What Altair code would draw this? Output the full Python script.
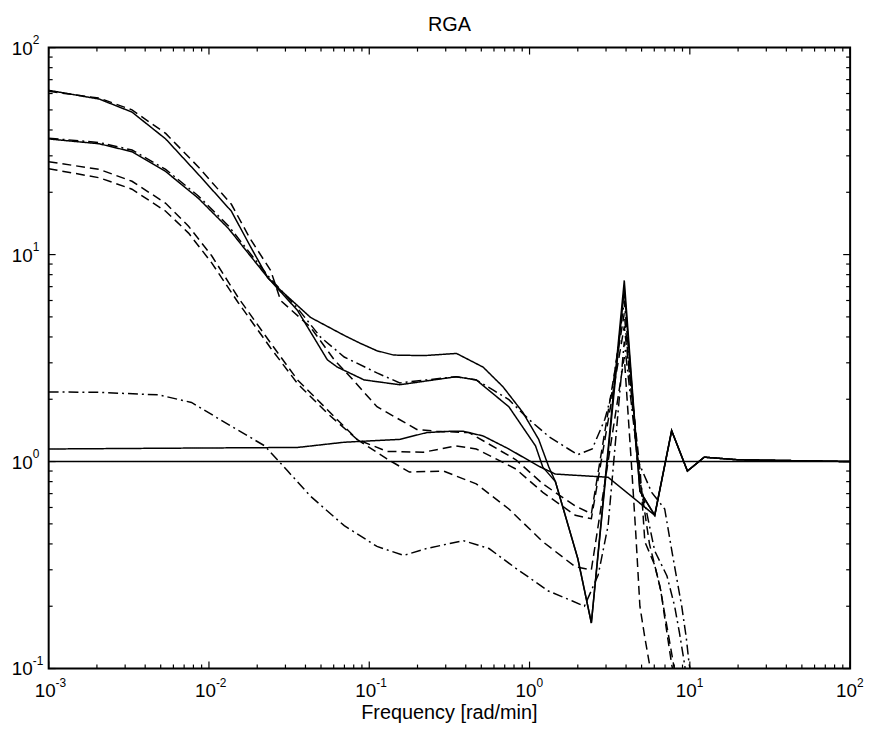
import altair as alt
import pandas as pd

# ---------------- text ----------------
title_text = "RGA"
x_title = "Frequency [rad/min]"

# ---------------- axis decades / tick labels ----------------
x_decades = [1e-3, 1e-2, 1e-1, 1e0, 1e1, 1e2]
x_exponents = ["-3", "-2", "-1", "0", "1", "2"]
y_decades = [1e-1, 1e0, 1e1, 1e2]
y_exponents = ["-1", "0", "1", "2"]
minor_mult = [2, 3, 4, 5, 6, 7, 8, 9]

# ---------------- series ----------------
s1_freq = [0.001, 0.00207, 0.00331, 0.00537, 0.00859, 0.0138, 0.0183, 0.0233, 0.0269, 0.043, 0.0698, 0.0877,
           0.1117, 0.142, 0.22, 0.35, 0.513, 0.682, 0.907, 1.14, 1.32, 1.45, 2.0, 2.43, 3.9, 4.88, 6.04, 7.7,
           9.66, 12.3, 20, 100]
s1_val = [62.2, 56.4, 48.8, 36.2, 24.4, 16.2, 10.8, 7.73, 6.92, 4.97, 4.07, 3.73,
          3.43, 3.27, 3.25, 3.33, 2.86, 2.30, 1.73, 1.28, 0.94, 0.80, 0.34, 0.166, 7.5, 0.72, 0.55, 1.41,
          0.90, 1.05, 1.02, 1.0]

s2_freq = [0.001, 0.00207, 0.00331, 0.00537, 0.00859, 0.0132, 0.0233, 0.0357, 0.0548, 0.0632, 0.0929, 0.155,
           0.349, 0.465, 0.743, 1.09, 1.21, 1.45, 2.0, 2.43, 3.9, 4.88, 6.04, 7.7, 9.66, 12.3, 20, 100]
s2_val = [36.2, 34.3, 31.4, 25.2, 18.7, 13.4, 7.73, 5.37, 3.10, 2.86, 2.48, 2.35,
          2.57, 2.48, 1.84, 1.19, 0.94, 0.80, 0.34, 0.166, 6.8, 0.72, 0.55, 1.41, 0.90, 1.05, 1.02, 1.0]

s3_freq = [0.001, 0.00537, 0.0357, 0.0698, 0.155, 0.228, 0.316, 0.386, 0.513, 0.743, 1.14, 1.45, 3.09,
           6.04, 7.7, 9.66, 12.3, 20, 100]
s3_val = [1.15, 1.16, 1.17, 1.24, 1.28, 1.38, 1.40, 1.40, 1.33, 1.15, 0.95, 0.87, 0.84,
          0.55, 1.41, 0.90, 1.05, 1.02, 1.0]

s4_freq = [0.001, 100]
s4_val = [1.0, 1.0]

dd1_freq = [0.001, 0.00207, 0.00331, 0.00537, 0.00859, 0.0132, 0.0233, 0.0357, 0.0497, 0.0698, 0.1117, 0.155,
            0.228, 0.349, 0.465, 0.591, 0.743, 0.989, 1.32, 1.75, 2.0, 2.46, 2.95, 3.27, 3.9, 4.74, 5.78,
            6.97, 7.77, 8.9, 9.5, 9.9, 10.7]
dd1_val = [36.5, 34.8, 32.0, 25.8, 19.2, 13.8, 7.9, 5.5, 3.99, 3.20, 2.68, 2.40,
           2.48, 2.57, 2.48, 2.22, 1.99, 1.60, 1.32, 1.15, 1.08, 1.15, 1.60, 2.15, 6.0, 1.01, 0.71,
           0.59, 0.36, 0.2, 0.141, 0.105, 0.08]

dd2_freq = [0.001, 0.00207, 0.00486, 0.00778, 0.0138, 0.0223, 0.031, 0.043, 0.0698, 0.1117, 0.164, 0.228,
            0.386, 0.559, 0.822, 1.31, 1.85, 2.2, 2.68, 3.09, 3.9, 4.9, 6.04, 7.2, 8.04, 8.6, 9.27, 9.6]
dd2_val = [2.17, 2.16, 2.10, 1.93, 1.48, 1.19, 0.90, 0.68, 0.49, 0.389, 0.352, 0.38,
           0.415, 0.38, 0.305, 0.237, 0.212, 0.20, 0.283, 0.49, 3.8, 0.8, 0.37, 0.28, 0.2, 0.15, 0.105, 0.085]

d1_freq = [0.001, 0.00207, 0.00331, 0.00537, 0.00859, 0.0138, 0.018, 0.0243, 0.028, 0.043, 0.0605, 0.076,
           0.1117, 0.198, 0.263, 0.42, 0.618, 0.822, 1.21, 1.93, 2.43, 3.9, 4.7, 5.6, 6.5, 7.3, 8.0, 8.4]
d1_val = [61.5, 57.0, 50.0, 38.5, 26.5, 17.5, 12.0, 8.36, 6.0, 4.46, 3.10, 2.57,
          1.84, 1.43, 1.40, 1.38, 1.16, 1.02, 0.78, 0.61, 0.56, 5.2, 1.0, 0.4, 0.25, 0.15, 0.1, 0.085]

d3_freq = [0.001, 0.00207, 0.00331, 0.00537, 0.00746, 0.0104, 0.0152, 0.0243, 0.0357, 0.0548, 0.0839, 0.129,
           0.178, 0.29, 0.465, 0.743, 1.21, 1.93, 2.43, 3.9, 4.35, 4.6, 4.88, 5.24, 5.6, 6.0]
d3_val = [28.1, 25.8, 22.6, 17.7, 13.7, 9.87, 6.21, 3.73, 2.48, 1.78, 1.28, 1.03,
          0.89, 0.90, 0.78, 0.59, 0.41, 0.31, 0.30, 3.2, 0.9, 0.45, 0.2, 0.141, 0.105, 0.085]

d4_freq = [0.001, 0.00207, 0.00331, 0.00537, 0.00746, 0.0104, 0.0152, 0.0243, 0.0357, 0.0548, 0.0839, 0.129,
           0.218, 0.349, 0.465, 0.618, 0.822, 1.21, 1.93, 2.43, 3.9, 4.9, 5.24, 6.04, 6.6, 6.97, 7.7, 8.0]
d4_val = [26.0, 23.5, 20.7, 16.2, 12.7, 9.12, 5.87, 3.53, 2.38, 1.71, 1.28, 1.12,
          1.11, 1.19, 1.15, 1.03, 0.92, 0.71, 0.55, 0.53, 4.5, 0.9, 0.41, 0.316, 0.237, 0.176, 0.105, 0.09]

series = [
    ("s1", "solid", s1_freq, s1_val),
    ("s2", "solid", s2_freq, s2_val),
    ("s3", "solid", s3_freq, s3_val),
    ("s4", "solid", s4_freq, s4_val),
    ("dd1", "dashdot", dd1_freq, dd1_val),
    ("dd2", "dashdot", dd2_freq, dd2_val),
    ("d1", "dashed", d1_freq, d1_val),
    ("d3", "dashed", d3_freq, d3_val),
    ("d4", "dashed", d4_freq, d4_val),
]

rows = []
for name, style, fr, va in series:
    for i, (f, v) in enumerate(zip(fr, va)):
        rows.append({"series": name, "style": style, "freq": f, "value": v, "i": i})
df = pd.DataFrame(rows)

W, H = 808, 626
FONT = "Liberation Sans"
MAJ, MIN = 7, 4

xscale = alt.Scale(type="log", domain=[1e-3, 1e2], nice=False)
yscale = alt.Scale(type="log", domain=[1e-1, 1e2], nice=False)

lines = alt.Chart(df).mark_line(clip=True, strokeWidth=1.5, color="black").encode(
    x=alt.X("freq:Q", scale=xscale, axis=None),
    y=alt.Y("value:Q", scale=yscale, axis=None),
    detail="series:N",
    order=alt.Order("i:Q"),
    strokeDash=alt.StrokeDash(
        "style:N",
        scale=alt.Scale(domain=["solid", "dashed", "dashdot"], range=[[1, 0], [9, 5], [10, 4, 2, 4]]),
        legend=None,
    ),
)

x_major = x_decades
x_minor = [m * d for d in x_decades[:-1] for m in minor_mult]
y_major = y_decades
y_minor = [m * d for d in y_decades[:-1] for m in minor_mult]


def xticks(vals, length):
    d = pd.DataFrame({"v": vals})
    base = alt.Chart(d).mark_rule(color="black", strokeWidth=1.2)
    bottom = base.encode(x=alt.X("v:Q", scale=xscale, axis=None), y=alt.value(H), y2=alt.value(H - length))
    top = base.encode(x=alt.X("v:Q", scale=xscale, axis=None), y=alt.value(0), y2=alt.value(length))
    return [bottom, top]


def yticks(vals, length):
    d = pd.DataFrame({"v": vals})
    base = alt.Chart(d).mark_rule(color="black", strokeWidth=1.2)
    left = base.encode(y=alt.Y("v:Q", scale=yscale, axis=None), x=alt.value(0), x2=alt.value(length))
    right = base.encode(y=alt.Y("v:Q", scale=yscale, axis=None), x=alt.value(W), x2=alt.value(W - length))
    return [left, right]


ticks = xticks(x_major, MAJ) + xticks(x_minor, MIN) + yticks(y_major, MAJ) + yticks(y_minor, MIN)

xl = pd.DataFrame({"v": x_decades, "base": ["10"] * len(x_decades), "exp": x_exponents})
yl = pd.DataFrame({"v": y_decades, "base": ["10"] * len(y_decades), "exp": y_exponents})

x_base = alt.Chart(xl).mark_text(font=FONT, fontSize=19, align="right", baseline="alphabetic", dx=7,
                                 color="black").encode(
    x=alt.X("v:Q", scale=xscale, axis=None), y=alt.value(H + 29), text="base:N")
x_exp = alt.Chart(xl).mark_text(font=FONT, fontSize=12, align="left", baseline="alphabetic", dx=7,
                                color="black").encode(
    x=alt.X("v:Q", scale=xscale, axis=None), y=alt.value(H + 19), text="exp:N")
y_base = alt.Chart(yl).mark_text(font=FONT, fontSize=19, align="right", baseline="middle", dy=1,
                                 color="black").encode(
    y=alt.Y("v:Q", scale=yscale, axis=None), x=alt.value(-16), text="base:N")
y_exp = alt.Chart(yl).mark_text(font=FONT, fontSize=12, align="left", baseline="middle", dy=-8,
                                color="black").encode(
    y=alt.Y("v:Q", scale=yscale, axis=None), x=alt.value(-16), text="exp:N")

title = alt.Chart(pd.DataFrame({"t": [title_text]})).mark_text(
    font=FONT, fontSize=20, align="center", baseline="alphabetic", color="black").encode(
    x=alt.value(W / 2), y=alt.value(-17), text="t:N")
xtitle = alt.Chart(pd.DataFrame({"t": [x_title]})).mark_text(
    font=FONT, fontSize=20, align="center", baseline="alphabetic", color="black").encode(
    x=alt.value(W / 2), y=alt.value(H + 51), text="t:N")

chart = alt.layer(lines, *ticks, x_base, x_exp, y_base, y_exp, title, xtitle).properties(
    width=W, height=H,
    autosize=alt.AutoSizeParams(type="none"),
    padding={"left": 41, "top": 37, "right": 16, "bottom": 55},
    background="white",
).configure_view(stroke="black", strokeWidth=2)

chart.save("out.html", embed_options={"renderer": "svg", "actions": False})
